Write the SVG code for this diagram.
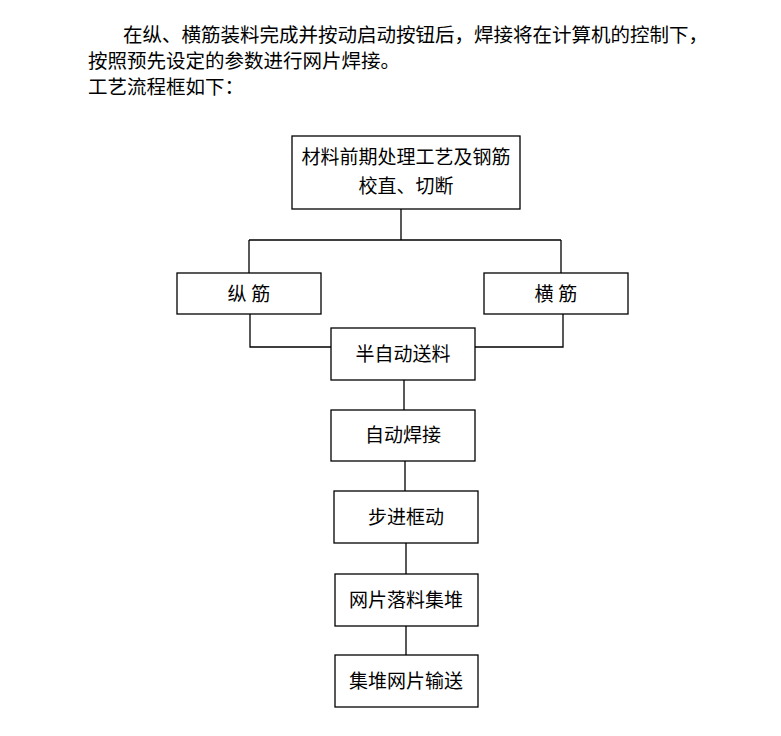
<svg xmlns="http://www.w3.org/2000/svg" width="781" height="736" viewBox="0 0 781 736">
<style>
text{font-family:"Liberation Serif","Noto Sans CJK SC",serif;fill:#000}
.p{font-size:19.5px}
.b{font-size:19px;text-anchor:middle}
rect{fill:#fff;stroke:#000;stroke-width:1.3}
.c{fill:none;stroke:#000;stroke-width:1.3}
</style>
<rect x="0" y="0" width="781" height="736" style="stroke:none"/>
<text class="p" x="123" y="42">在纵、横筋装料完成并按动启动按钮后，焊接将在计算机的控制下，</text>
<text class="p" x="88" y="68">按照预先设定的参数进行网片焊接。</text>
<text class="p" x="88" y="94">工艺流程框如下：</text>
<g id="connectors">
<path class="c" d="M401 209V240M249 240H561M249 240V273M561 240V273M250 314V347H331M563 314V347H475M404 380V410M405 461V491M406 543V574M406 626V655"/>
</g>
<g id="n1"><rect x="292" y="136" width="228" height="73"/><text class="b" x="406" y="164">材料前期处理工艺及钢筋</text><text class="b" x="406" y="193">校直、切断</text></g>
<g id="n2"><rect x="177" y="273" width="144" height="41"/><text class="b" x="249" y="301">纵    筋</text></g>
<g id="n3"><rect x="484" y="273" width="144" height="41"/><text class="b" x="556" y="301">横    筋</text></g>
<g id="n4"><rect x="331" y="328" width="144" height="52"/><text class="b" x="403" y="361">半自动送料</text></g>
<g id="n5"><rect x="331" y="410" width="144" height="51"/><text class="b" x="403" y="442">自动焊接</text></g>
<g id="n6"><rect x="334" y="491" width="144" height="52"/><text class="b" x="406" y="524">步进框动</text></g>
<g id="n7"><rect x="335" y="574" width="143" height="52"/><text class="b" x="406" y="607">网片落料集堆</text></g>
<g id="n8"><rect x="335" y="655" width="143" height="52"/><text class="b" x="406" y="688">集堆网片输送</text></g>
</svg>
